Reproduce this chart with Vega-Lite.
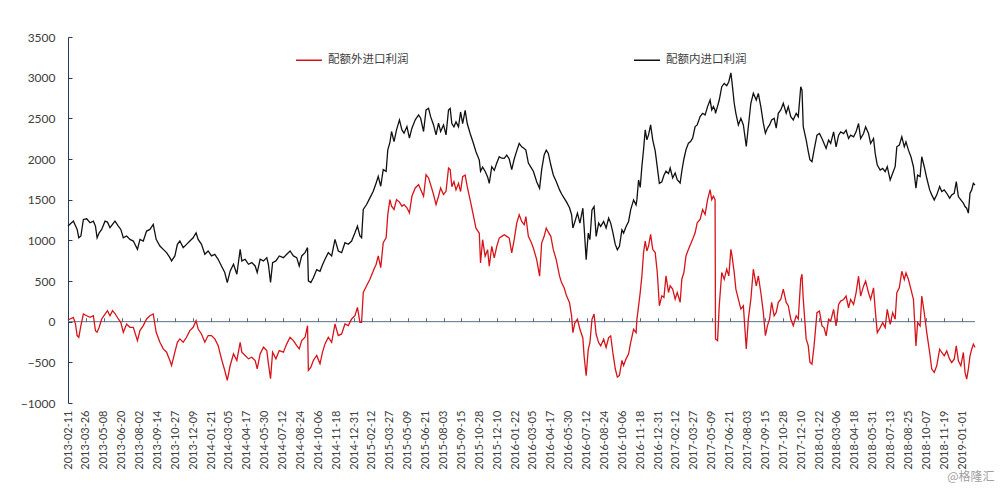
{
"$schema":"https://vega.github.io/schema/vega-lite/v6.json",
"width":907,"height":366,
"autosize":{"type":"none"},
"padding":{"left":68,"top":37,"right":25,"bottom":91},
"background":"#ffffff",
"config":{"view":{"stroke":null},"font":"Lato"},
"title":{"text":"@格隆汇","orient":"bottom","anchor":"end","font":"Noto Sans CJK SC","fontSize":12,"fontWeight":"normal","color":"#a0a0a0","offset":3,"dx":17},
"data":{"values":[
{"d":"2013-02-11","in":1175,"ex":20},
{"d":"2013-02-24","in":1236,"ex":53},
{"d":"2013-03-01","in":1180,"ex":-29},
{"d":"2013-03-05","in":1134,"ex":-171},
{"d":"2013-03-09","in":1032,"ex":-192},
{"d":"2013-03-14","in":1053,"ex":-49},
{"d":"2013-03-20","in":1257,"ex":94},
{"d":"2013-03-28","in":1265,"ex":73},
{"d":"2013-04-05","in":1216,"ex":53},
{"d":"2013-04-13","in":1236,"ex":73},
{"d":"2013-04-18","in":1175,"ex":-110},
{"d":"2013-04-22","in":1032,"ex":-130},
{"d":"2013-04-27","in":1093,"ex":-69},
{"d":"2013-05-03","in":1134,"ex":33},
{"d":"2013-05-11","in":1236,"ex":94},
{"d":"2013-05-17","in":1224,"ex":135},
{"d":"2013-05-23","in":1155,"ex":73},
{"d":"2013-05-29","in":1195,"ex":135},
{"d":"2013-06-04","in":1236,"ex":100},
{"d":"2013-06-12","in":1175,"ex":33},
{"d":"2013-06-18","in":1134,"ex":-8},
{"d":"2013-06-24","in":1032,"ex":-131},
{"d":"2013-07-02","in":1053,"ex":-29},
{"d":"2013-07-10","in":1012,"ex":-69},
{"d":"2013-07-18","in":991,"ex":-69},
{"d":"2013-07-28","in":889,"ex":-233},
{"d":"2013-08-03","in":1012,"ex":-110},
{"d":"2013-08-11","in":991,"ex":-49},
{"d":"2013-08-19","in":1114,"ex":33},
{"d":"2013-08-27","in":1134,"ex":73},
{"d":"2013-09-04","in":1195,"ex":94},
{"d":"2013-09-11","in":1012,"ex":-131},
{"d":"2013-09-20","in":930,"ex":-253},
{"d":"2013-09-28","in":889,"ex":-335},
{"d":"2013-10-06","in":849,"ex":-375},
{"d":"2013-10-14","in":787,"ex":-477},
{"d":"2013-10-18","in":747,"ex":-539},
{"d":"2013-10-26","in":808,"ex":-375},
{"d":"2013-11-01","in":950,"ex":-253},
{"d":"2013-11-07","in":991,"ex":-212},
{"d":"2013-11-15","in":910,"ex":-253},
{"d":"2013-11-23","in":950,"ex":-192},
{"d":"2013-12-01","in":991,"ex":-110},
{"d":"2013-12-09","in":1032,"ex":-69},
{"d":"2013-12-16","in":1093,"ex":12},
{"d":"2013-12-21","in":1012,"ex":-90},
{"d":"2013-12-29","in":950,"ex":-151},
{"d":"2014-01-06","in":828,"ex":-253},
{"d":"2014-01-14","in":869,"ex":-171},
{"d":"2014-01-22","in":808,"ex":-171},
{"d":"2014-01-30","in":828,"ex":-212},
{"d":"2014-02-07","in":767,"ex":-294},
{"d":"2014-02-15","in":685,"ex":-457},
{"d":"2014-02-23","in":604,"ex":-600},
{"d":"2014-03-01","in":481,"ex":-722},
{"d":"2014-03-08","in":624,"ex":-539},
{"d":"2014-03-16","in":706,"ex":-396},
{"d":"2014-03-24","in":583,"ex":-477},
{"d":"2014-04-01","in":889,"ex":-253},
{"d":"2014-04-05","in":747,"ex":-375},
{"d":"2014-04-13","in":767,"ex":-416},
{"d":"2014-04-21","in":706,"ex":-457},
{"d":"2014-04-29","in":726,"ex":-437},
{"d":"2014-05-07","in":685,"ex":-477},
{"d":"2014-05-12","in":604,"ex":-579},
{"d":"2014-05-19","in":767,"ex":-396},
{"d":"2014-05-27","in":747,"ex":-314},
{"d":"2014-06-04","in":787,"ex":-355},
{"d":"2014-06-08","in":700,"ex":-518},
{"d":"2014-06-13","in":481,"ex":-702},
{"d":"2014-06-18","in":726,"ex":-375},
{"d":"2014-06-26","in":747,"ex":-457},
{"d":"2014-07-04","in":808,"ex":-355},
{"d":"2014-07-14","in":787,"ex":-375},
{"d":"2014-07-22","in":828,"ex":-273},
{"d":"2014-07-30","in":869,"ex":-192},
{"d":"2014-08-07","in":808,"ex":-233},
{"d":"2014-08-15","in":787,"ex":-294},
{"d":"2014-08-21","in":685,"ex":-335},
{"d":"2014-08-27","in":808,"ex":-233},
{"d":"2014-09-04","in":849,"ex":-192},
{"d":"2014-09-10","in":910,"ex":-49},
{"d":"2014-09-12","in":502,"ex":-600},
{"d":"2014-09-18","in":481,"ex":-559},
{"d":"2014-09-24","in":540,"ex":-477},
{"d":"2014-10-02","in":640,"ex":-416},
{"d":"2014-10-10","in":620,"ex":-518},
{"d":"2014-10-16","in":700,"ex":-375},
{"d":"2014-10-22","in":767,"ex":-273},
{"d":"2014-10-30","in":849,"ex":-192},
{"d":"2014-11-07","in":808,"ex":-253},
{"d":"2014-11-15","in":1012,"ex":-29},
{"d":"2014-11-23","in":869,"ex":-171},
{"d":"2014-12-01","in":849,"ex":-151},
{"d":"2014-12-09","in":971,"ex":-29},
{"d":"2014-12-17","in":951,"ex":-49},
{"d":"2014-12-25","in":991,"ex":33},
{"d":"2015-01-02","in":1093,"ex":73},
{"d":"2015-01-08","in":1175,"ex":175},
{"d":"2015-01-14","in":1053,"ex":-8},
{"d":"2015-01-18","in":1032,"ex":-8},
{"d":"2015-01-22","in":1379,"ex":359},
{"d":"2015-01-30","in":1440,"ex":441},
{"d":"2015-02-07","in":1522,"ex":522},
{"d":"2015-02-15","in":1603,"ex":624},
{"d":"2015-02-22","in":1705,"ex":706},
{"d":"2015-02-27","in":1787,"ex":808},
{"d":"2015-03-05","in":1665,"ex":665},
{"d":"2015-03-11","in":1869,"ex":971},
{"d":"2015-03-18","in":1848,"ex":1032},
{"d":"2015-03-22","in":2113,"ex":1318},
{"d":"2015-03-27","in":2200,"ex":1501},
{"d":"2015-03-31","in":2338,"ex":1420},
{"d":"2015-04-06","in":2215,"ex":1379},
{"d":"2015-04-12","in":2358,"ex":1501},
{"d":"2015-04-19","in":2481,"ex":1470},
{"d":"2015-04-25","in":2358,"ex":1420},
{"d":"2015-04-30","in":2317,"ex":1440},
{"d":"2015-05-07","in":2399,"ex":1400},
{"d":"2015-05-13","in":2256,"ex":1338},
{"d":"2015-05-19","in":2379,"ex":1542},
{"d":"2015-05-27","in":2481,"ex":1644},
{"d":"2015-06-04","in":2542,"ex":1685},
{"d":"2015-06-09","in":2501,"ex":1624},
{"d":"2015-06-16","in":2338,"ex":1542},
{"d":"2015-06-22","in":2603,"ex":1807},
{"d":"2015-06-28","in":2623,"ex":1767},
{"d":"2015-07-03","in":2521,"ex":1685},
{"d":"2015-07-10","in":2419,"ex":1563},
{"d":"2015-07-16","in":2297,"ex":1440},
{"d":"2015-07-22","in":2440,"ex":1542},
{"d":"2015-07-27","in":2338,"ex":1644},
{"d":"2015-08-03","in":2419,"ex":1563},
{"d":"2015-08-09","in":2297,"ex":1603},
{"d":"2015-08-15","in":2603,"ex":1889},
{"d":"2015-08-19","in":2623,"ex":1869},
{"d":"2015-08-23","in":2436,"ex":1660},
{"d":"2015-08-28","in":2395,"ex":1722},
{"d":"2015-09-02","in":2456,"ex":1620},
{"d":"2015-09-08","in":2395,"ex":1701},
{"d":"2015-09-13","in":2578,"ex":1600},
{"d":"2015-09-18","in":2436,"ex":1783},
{"d":"2015-09-24","in":2599,"ex":1803},
{"d":"2015-09-29","in":2436,"ex":1660},
{"d":"2015-10-06","in":2313,"ex":1497},
{"d":"2015-10-14","in":2191,"ex":1300},
{"d":"2015-10-20","in":2089,"ex":1150},
{"d":"2015-10-28","in":1987,"ex":1089},
{"d":"2015-10-31","in":1850,"ex":722},
{"d":"2015-11-05","in":1900,"ex":1008},
{"d":"2015-11-11","in":1850,"ex":804},
{"d":"2015-11-17","in":1780,"ex":885},
{"d":"2015-11-21","in":1700,"ex":681},
{"d":"2015-11-27","in":1905,"ex":926},
{"d":"2015-12-03","in":1860,"ex":783},
{"d":"2015-12-09","in":1950,"ex":926},
{"d":"2015-12-15","in":2028,"ex":1028},
{"d":"2015-12-21","in":2010,"ex":1049},
{"d":"2015-12-27","in":2007,"ex":1069},
{"d":"2016-01-02","in":2048,"ex":1049},
{"d":"2016-01-08","in":2000,"ex":1028},
{"d":"2016-01-14","in":1870,"ex":845},
{"d":"2016-01-20","in":2000,"ex":1008},
{"d":"2016-01-26","in":2100,"ex":1212},
{"d":"2016-02-01","in":2191,"ex":1314},
{"d":"2016-02-07","in":2150,"ex":1232},
{"d":"2016-02-13","in":2130,"ex":1191},
{"d":"2016-02-17","in":2109,"ex":1293},
{"d":"2016-02-23","in":1950,"ex":1049},
{"d":"2016-02-29","in":1900,"ex":987},
{"d":"2016-03-06","in":1850,"ex":906},
{"d":"2016-03-14","in":1720,"ex":763},
{"d":"2016-03-21","in":1640,"ex":559},
{"d":"2016-03-26","in":1870,"ex":967},
{"d":"2016-04-01","in":2050,"ex":1049},
{"d":"2016-04-06","in":2109,"ex":1151},
{"d":"2016-04-11","in":2069,"ex":1100},
{"d":"2016-04-17","in":1926,"ex":1049},
{"d":"2016-04-23","in":1803,"ex":885},
{"d":"2016-04-30","in":1722,"ex":763},
{"d":"2016-05-08","in":1620,"ex":559},
{"d":"2016-05-13","in":1570,"ex":477},
{"d":"2016-05-19","in":1520,"ex":416},
{"d":"2016-05-25","in":1470,"ex":314},
{"d":"2016-06-01","in":1400,"ex":232},
{"d":"2016-06-06","in":1314,"ex":69},
{"d":"2016-06-09","in":1151,"ex":-135},
{"d":"2016-06-14","in":1232,"ex":-12},
{"d":"2016-06-20","in":1334,"ex":29},
{"d":"2016-06-26","in":1212,"ex":-94},
{"d":"2016-07-03","in":1395,"ex":-200},
{"d":"2016-07-06","in":1171,"ex":-420},
{"d":"2016-07-11","in":763,"ex":-665},
{"d":"2016-07-16","in":1089,"ex":-339},
{"d":"2016-07-20","in":1008,"ex":-257},
{"d":"2016-07-25","in":1375,"ex":29},
{"d":"2016-07-30","in":1416,"ex":94},
{"d":"2016-08-04","in":1049,"ex":-155},
{"d":"2016-08-10","in":1212,"ex":-257},
{"d":"2016-08-15","in":1171,"ex":-298},
{"d":"2016-08-22","in":1232,"ex":-216},
{"d":"2016-08-28","in":1151,"ex":-318},
{"d":"2016-09-03","in":1273,"ex":-196},
{"d":"2016-09-08","in":1212,"ex":-175},
{"d":"2016-09-13","in":1100,"ex":-375},
{"d":"2016-09-19","in":950,"ex":-579},
{"d":"2016-09-24","in":885,"ex":-681},
{"d":"2016-09-29","in":926,"ex":-661},
{"d":"2016-10-05","in":1130,"ex":-477},
{"d":"2016-10-09","in":1089,"ex":-539},
{"d":"2016-10-15","in":1171,"ex":-457},
{"d":"2016-10-21","in":1232,"ex":-396},
{"d":"2016-10-26","in":1375,"ex":-257},
{"d":"2016-11-02","in":1497,"ex":-94},
{"d":"2016-11-08","in":1436,"ex":-135},
{"d":"2016-11-10","in":1500,"ex":29},
{"d":"2016-11-14","in":1742,"ex":192},
{"d":"2016-11-18","in":1650,"ex":359},
{"d":"2016-11-22","in":1909,"ex":563},
{"d":"2016-11-26","in":2113,"ex":849},
{"d":"2016-11-30","in":2358,"ex":991},
{"d":"2016-12-04","in":2236,"ex":869},
{"d":"2016-12-08","in":2297,"ex":930},
{"d":"2016-12-13","in":2419,"ex":1073},
{"d":"2016-12-18","in":2236,"ex":889},
{"d":"2016-12-24","in":2100,"ex":849},
{"d":"2016-12-29","in":1900,"ex":604},
{"d":"2017-01-03","in":1700,"ex":196},
{"d":"2017-01-09","in":1720,"ex":318},
{"d":"2017-01-14","in":1800,"ex":298},
{"d":"2017-01-19","in":1850,"ex":563},
{"d":"2017-01-25","in":1820,"ex":359},
{"d":"2017-01-29","in":1889,"ex":441},
{"d":"2017-02-04","in":1767,"ex":400},
{"d":"2017-02-10","in":1828,"ex":277},
{"d":"2017-02-15","in":1746,"ex":359},
{"d":"2017-02-22","in":1705,"ex":237},
{"d":"2017-02-26","in":1850,"ex":522},
{"d":"2017-03-03","in":2000,"ex":604},
{"d":"2017-03-08","in":2113,"ex":808},
{"d":"2017-03-14","in":2195,"ex":889},
{"d":"2017-03-19","in":2215,"ex":951},
{"d":"2017-03-24","in":2256,"ex":1012},
{"d":"2017-03-30","in":2399,"ex":1093},
{"d":"2017-04-04","in":2419,"ex":1216},
{"d":"2017-04-11","in":2521,"ex":1257},
{"d":"2017-04-17","in":2562,"ex":1379},
{"d":"2017-04-23","in":2542,"ex":1318},
{"d":"2017-04-29","in":2644,"ex":1501},
{"d":"2017-05-05","in":2725,"ex":1624},
{"d":"2017-05-09","in":2603,"ex":1501},
{"d":"2017-05-13","in":2644,"ex":1542},
{"d":"2017-05-17","in":2600,"ex":1501},
{"d":"2017-05-18","in":2562,"ex":-212},
{"d":"2017-05-23","in":2650,"ex":-233},
{"d":"2017-05-27","in":2725,"ex":196},
{"d":"2017-06-02","in":2889,"ex":604},
{"d":"2017-06-08","in":2929,"ex":522},
{"d":"2017-06-14","in":2900,"ex":645},
{"d":"2017-06-19","in":2950,"ex":563},
{"d":"2017-06-24","in":3060,"ex":889},
{"d":"2017-06-27","in":2929,"ex":800},
{"d":"2017-07-02","in":2685,"ex":604},
{"d":"2017-07-06","in":2562,"ex":400},
{"d":"2017-07-12","in":2419,"ex":277},
{"d":"2017-07-18","in":2501,"ex":155},
{"d":"2017-07-24","in":2419,"ex":196},
{"d":"2017-07-31","in":2154,"ex":-335},
{"d":"2017-08-05","in":2399,"ex":33},
{"d":"2017-08-11","in":2685,"ex":277},
{"d":"2017-08-17","in":2807,"ex":645},
{"d":"2017-08-24","in":2725,"ex":441},
{"d":"2017-08-29","in":2807,"ex":563},
{"d":"2017-09-04","in":2644,"ex":359},
{"d":"2017-09-10","in":2440,"ex":114},
{"d":"2017-09-15","in":2317,"ex":-171},
{"d":"2017-09-20","in":2380,"ex":-49},
{"d":"2017-09-25","in":2419,"ex":33},
{"d":"2017-09-30","in":2480,"ex":237},
{"d":"2017-10-06","in":2501,"ex":73},
{"d":"2017-10-11","in":2379,"ex":114},
{"d":"2017-10-16","in":2562,"ex":237},
{"d":"2017-10-22","in":2603,"ex":277},
{"d":"2017-10-28","in":2685,"ex":400},
{"d":"2017-11-04","in":2562,"ex":237},
{"d":"2017-11-09","in":2644,"ex":196},
{"d":"2017-11-15","in":2521,"ex":33},
{"d":"2017-11-21","in":2481,"ex":-49},
{"d":"2017-11-28","in":2562,"ex":73},
{"d":"2017-12-03","in":2521,"ex":33},
{"d":"2017-12-09","in":2889,"ex":522},
{"d":"2017-12-12","in":2848,"ex":583},
{"d":"2017-12-15","in":2399,"ex":277},
{"d":"2017-12-22","in":2236,"ex":-212},
{"d":"2017-12-27","in":2093,"ex":-294},
{"d":"2017-12-31","in":1991,"ex":-498},
{"d":"2018-01-05","in":1967,"ex":-522},
{"d":"2018-01-10","in":2109,"ex":-298},
{"d":"2018-01-17","in":2293,"ex":110},
{"d":"2018-01-23","in":2313,"ex":131},
{"d":"2018-01-29","in":2252,"ex":-53},
{"d":"2018-02-03","in":2191,"ex":-73},
{"d":"2018-02-08","in":2130,"ex":-175},
{"d":"2018-02-14","in":2232,"ex":29},
{"d":"2018-02-19","in":2191,"ex":8},
{"d":"2018-02-26","in":2334,"ex":151},
{"d":"2018-03-04","in":2150,"ex":-53},
{"d":"2018-03-10","in":2293,"ex":212},
{"d":"2018-03-15","in":2334,"ex":253},
{"d":"2018-03-22","in":2313,"ex":273},
{"d":"2018-03-28","in":2354,"ex":314},
{"d":"2018-04-03","in":2252,"ex":171},
{"d":"2018-04-08","in":2293,"ex":273},
{"d":"2018-04-15","in":2273,"ex":212},
{"d":"2018-04-21","in":2334,"ex":355},
{"d":"2018-04-27","in":2436,"ex":559},
{"d":"2018-05-02","in":2252,"ex":314},
{"d":"2018-05-09","in":2313,"ex":437},
{"d":"2018-05-14","in":2395,"ex":498},
{"d":"2018-05-21","in":2313,"ex":355},
{"d":"2018-05-26","in":2191,"ex":273},
{"d":"2018-06-02","in":2252,"ex":416},
{"d":"2018-06-06","in":2069,"ex":151},
{"d":"2018-06-11","in":1926,"ex":-135},
{"d":"2018-06-18","in":1864,"ex":-73},
{"d":"2018-06-24","in":1885,"ex":-12},
{"d":"2018-06-30","in":1844,"ex":-73},
{"d":"2018-07-05","in":1905,"ex":151},
{"d":"2018-07-12","in":1742,"ex":-33},
{"d":"2018-07-18","in":1824,"ex":110},
{"d":"2018-07-24","in":1905,"ex":29},
{"d":"2018-07-28","in":2150,"ex":355},
{"d":"2018-08-03","in":2171,"ex":416},
{"d":"2018-08-09","in":2273,"ex":620},
{"d":"2018-08-15","in":2150,"ex":518},
{"d":"2018-08-19","in":2211,"ex":600},
{"d":"2018-08-25","in":2109,"ex":518},
{"d":"2018-08-31","in":2028,"ex":396},
{"d":"2018-09-06","in":1905,"ex":273},
{"d":"2018-09-12","in":1640,"ex":-298},
{"d":"2018-09-16","in":1803,"ex":-12},
{"d":"2018-09-22","in":1783,"ex":-53},
{"d":"2018-09-26","in":2028,"ex":314},
{"d":"2018-10-02","in":1905,"ex":110},
{"d":"2018-10-08","in":1763,"ex":-135},
{"d":"2018-10-15","in":1620,"ex":-379},
{"d":"2018-10-20","in":1559,"ex":-583},
{"d":"2018-10-26","in":1497,"ex":-624},
{"d":"2018-11-01","in":1559,"ex":-543},
{"d":"2018-11-08","in":1661,"ex":-339},
{"d":"2018-11-13","in":1599,"ex":-379},
{"d":"2018-11-19","in":1620,"ex":-420},
{"d":"2018-11-25","in":1579,"ex":-359},
{"d":"2018-12-02","in":1518,"ex":-461},
{"d":"2018-12-07","in":1559,"ex":-502},
{"d":"2018-12-13","in":1579,"ex":-461},
{"d":"2018-12-18","in":1722,"ex":-298},
{"d":"2018-12-23","in":1538,"ex":-481},
{"d":"2018-12-29","in":1497,"ex":-543},
{"d":"2019-01-04","in":1457,"ex":-379},
{"d":"2019-01-08","in":1416,"ex":-624},
{"d":"2019-01-12","in":1395,"ex":-706},
{"d":"2019-01-16","in":1334,"ex":-583},
{"d":"2019-01-20","in":1579,"ex":-420},
{"d":"2019-01-24","in":1620,"ex":-339},
{"d":"2019-01-28","in":1701,"ex":-277},
{"d":"2019-02-01","in":1681,"ex":-318}
]},
"transform":[{"fold":["ex","in"],"as":["s","v"]}],
"layer":[
{"mark":{"type":"rule","color":"#5a7088","strokeWidth":1},
 "encoding":{
  "x":{"field":"d","type":"temporal","aggregate":"min","scale":{"type":"utc","domain":["2013-02-11","2019-02-01"]},
       "axis":{"orient":"top","offset":-284.67,"labels":false,"domain":false,"ticks":true,"tickSize":4,"tickColor":"#5a7088","grid":false,"title":null,
       "values":["2013-02-11","2013-03-26","2013-05-08","2013-06-20","2013-08-02","2013-09-14","2013-10-27","2013-12-09","2014-01-21","2014-03-05","2014-04-17","2014-05-30","2014-07-12","2014-08-24","2014-10-06","2014-11-18","2014-12-31","2015-02-12","2015-03-27","2015-05-09","2015-06-21","2015-08-03","2015-09-15","2015-10-28","2015-12-10","2016-01-22","2016-03-05","2016-04-17","2016-05-30","2016-07-12","2016-08-24","2016-10-06","2016-11-18","2016-12-31","2017-02-12","2017-03-27","2017-05-09","2017-06-21","2017-08-03","2017-09-15","2017-10-28","2017-12-10","2018-01-22","2018-03-06","2018-04-18","2018-05-31","2018-07-13","2018-08-25","2018-10-07","2018-11-19","2019-01-01"]}},
  "x2":{"field":"d","aggregate":"max"},
  "y":{"datum":0,"type":"quantitative"}
 }},
{"mark":{"type":"line","strokeWidth":1.3},
 "encoding":{
  "x":{"field":"d","type":"temporal","scale":{"type":"utc","domain":["2013-02-11","2019-02-01"]},
       "axis":{"orient":"bottom","labelExpr":"utcFormat(datum.value, '%Y-%m-%d')","labelAngle":-90,"domain":false,"ticks":false,"labelPadding":7,"labelFontSize":11,"labelColor":"#404040","labelOverlap":false,"labelFlush":false,"grid":false,"title":null,
       "values":["2013-02-11","2013-03-26","2013-05-08","2013-06-20","2013-08-02","2013-09-14","2013-10-27","2013-12-09","2014-01-21","2014-03-05","2014-04-17","2014-05-30","2014-07-12","2014-08-24","2014-10-06","2014-11-18","2014-12-31","2015-02-12","2015-03-27","2015-05-09","2015-06-21","2015-08-03","2015-09-15","2015-10-28","2015-12-10","2016-01-22","2016-03-05","2016-04-17","2016-05-30","2016-07-12","2016-08-24","2016-10-06","2016-11-18","2016-12-31","2017-02-12","2017-03-27","2017-05-09","2017-06-21","2017-08-03","2017-09-15","2017-10-28","2017-12-10","2018-01-22","2018-03-06","2018-04-18","2018-05-31","2018-07-13","2018-08-25","2018-10-07","2018-11-19","2019-01-01"]}},
  "y":{"field":"v","type":"quantitative","scale":{"domain":[-1000,3500],"nice":false,"zero":false},
       "axis":{"values":[-1000,-500,0,500,1000,1500,2000,2500,3000,3500],"format":"d","domainColor":"#243a5e","tickColor":"#243a5e","tickSize":-4,"labelPadding":17,"labelFontSize":12,"labelColor":"#404040","grid":false,"title":null}},
  "color":{"field":"s","type":"nominal","scale":{"domain":["ex","in"],"range":["#d7141a","#111111"]},
       "legend":{"orient":"none","legendX":227,"legendY":9,"direction":"horizontal","title":null,"padding":0,"symbolType":"stroke","symbolSize":676,"symbolStrokeWidth":1.5,"labelFont":"Noto Sans CJK SC","labelFontSize":11.5,"labelColor":"#404040","labelOffset":5,"columnPadding":222,
       "labelExpr":"datum.label == 'ex' ? '配额外进口利润' : '配额内进口利润'"}}
 }}
],
"resolve":{"axis":{"x":"independent"}}
}
